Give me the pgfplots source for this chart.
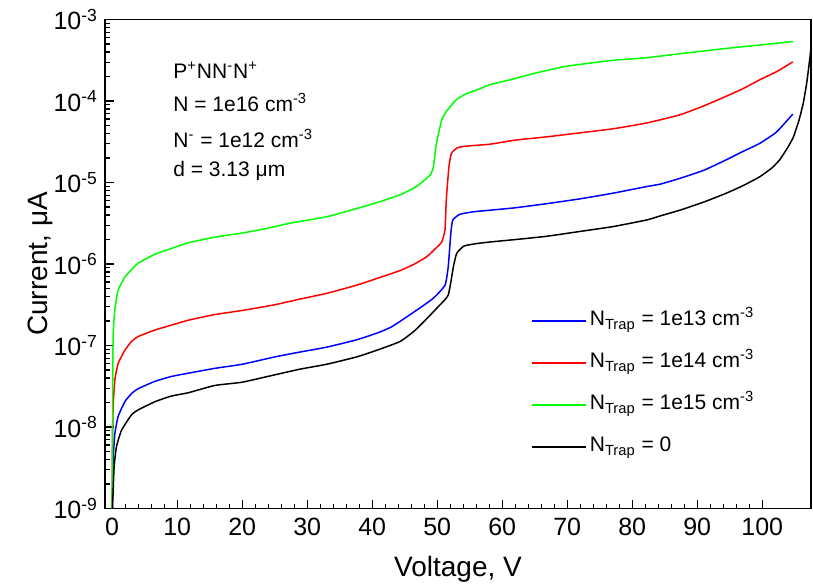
\documentclass[border=0pt]{standalone}
\usepackage{fontspec}
\setmainfont{Liberation Sans}
\usepackage{pgfplots}
\usepackage{pgfplotstable}
\pgfplotsset{compat=1.18}

\pgfplotstableread{
V ly
0.0 -9.1
0.05 -8.0
0.15 -6.89
0.42 -6.56
0.92 -6.32
1.95 -6.16
2.98 -6.07
4.0 -5.99
6.57 -5.88
9.1 -5.81
11.7 -5.74
15.8 -5.67
20 -5.62
24 -5.56
27.3 -5.50
33 -5.42
37.6 -5.32
41 -5.24
44.3 -5.15
46.8 -5.05
48.9 -4.91
49.4 -4.81
49.8 -4.56
50.2 -4.40
50.7 -4.23
51.3 -4.14
52 -4.07
53 -3.98
54.5 -3.91
56.6 -3.85
58.1 -3.80
61.7 -3.73
65 -3.66
69.4 -3.58
73 -3.54
77.1 -3.50
82 -3.47
87.3 -3.42
95 -3.35
100 -3.31
104.7 -3.27
}\datagreen

\pgfplotstableread{
V ly
0.0 -9.1
0.05 -8.3
0.15 -7.75
0.42 -7.42
0.92 -7.22
1.95 -7.06
2.98 -6.95
4.0 -6.89
6.57 -6.81
9.1 -6.75
11.7 -6.69
15.8 -6.62
20 -6.57
25 -6.50
28.9 -6.43
33 -6.36
37.6 -6.26
41 -6.17
44.3 -6.08
46.5 -6.00
48.4 -5.91
50 -5.79
50.7 -5.73
51.2 -5.58
51.4 -5.21
51.8 -4.81
52.2 -4.64
53.2 -4.57
55 -4.55
58.1 -4.53
62 -4.48
66.8 -4.44
72 -4.39
77.1 -4.34
82.2 -4.27
87.3 -4.17
91 -4.06
94.5 -3.94
97 -3.85
99.6 -3.74
102.2 -3.64
104.7 -3.52
}\datared

\pgfplotstableread{
V ly
0.0 -9.1
0.05 -8.8
0.15 -8.40
0.42 -8.08
0.92 -7.87
1.95 -7.69
2.98 -7.59
4.0 -7.53
6.57 -7.44
9.1 -7.38
11.7 -7.34
15.8 -7.28
20 -7.23
25 -7.14
28.9 -7.08
33 -7.02
37.6 -6.93
41 -6.84
43 -6.77
45.3 -6.65
47.5 -6.53
49.4 -6.42
51.2 -6.26
51.7 -6.03
52.1 -5.62
52.4 -5.46
53.5 -5.39
55.5 -5.36
58.1 -5.34
62 -5.31
66.8 -5.26
72 -5.20
77.1 -5.13
82.2 -5.05
84.3 -5.02
87.3 -4.95
91 -4.85
94.5 -4.72
97 -4.62
99.6 -4.52
102.2 -4.38
104.7 -4.16
}\datablue

\pgfplotstableread{
V ly
0.0 -9.1
0.1 -8.9
0.3 -8.49
0.67 -8.24
1.44 -8.04
2.98 -7.85
4.0 -7.79
6.57 -7.69
9.1 -7.62
11.7 -7.58
15.8 -7.49
20 -7.45
25 -7.36
28.9 -7.29
33 -7.23
37.6 -7.14
41 -7.05
44.3 -6.95
46.5 -6.82
48.4 -6.67
50.2 -6.52
51.7 -6.38
52.5 -6.03
53.0 -5.87
54.1 -5.78
56 -5.75
58.1 -5.73
62 -5.70
66.8 -5.66
72 -5.60
77.1 -5.54
82.2 -5.46
84.3 -5.41
87.3 -5.34
91 -5.24
94.5 -5.13
97 -5.04
99.6 -4.93
101.5 -4.82
102.7 -4.72
104 -4.56
104.8 -4.44
105.6 -4.25
106.3 -4.03
106.8 -3.8
107.1 -3.62
107.4 -3.42
107.6 -3.25
}\datablack

\begin{document}
\begin{tikzpicture}
\begin{axis}[
  scale only axis,
  width=353pt, height=244.5pt,
  xmin=-1.1, xmax=107.5,
  ymode=log, ymin=1e-9, ymax=1e-3,
  axis line style={line width=0.8pt},
  tick align=inside,
  xtick pos=left, ytick pos=left,
  xtick={0,10,...,100},
  minor x tick num=4,
  ytick={1e-9,1e-8,1e-7,1e-6,1e-5,1e-4,1e-3},
  yticklabels={10\textsuperscript{-9},10\textsuperscript{-8},10\textsuperscript{-7},10\textsuperscript{-6},10\textsuperscript{-5},10\textsuperscript{-4},10\textsuperscript{-3}},
  major tick length=4.5pt, minor tick length=2.5pt,
  every tick/.style={black, line width=0.6pt},
  /pgf/number format/assume math mode=true,
  ticklabel style={font=\fontsize{12.5}{14}\selectfont},
  xticklabel style={yshift=-1pt},
  xlabel={Voltage, V},
  ylabel={Current, μA},
  label style={font=\fontsize{14}{16}\selectfont},
  xlabel style={at={(axis description cs:0.5,-0.124)}, anchor=center},
  ylabel style={at={(axis description cs:-0.092,0.5)}, anchor=center, rotate=0},
  legend style={draw=none, fill=none, at={(rel axis cs:0.595,0.42)}, anchor=north west,
    font=\fontsize{10.5}{12}\selectfont, row sep=7.6pt,
    nodes={inner sep=1.2pt, text height=8pt, text depth=3pt}},
  legend cell align=left,
  legend image code/.code={\draw[#1, line width=1pt] (0pt,0pt) -- (27pt,0pt);},
  every axis plot/.append style={line width=0.75pt, line join=round, smooth, tension=0.3},
]
\addplot[color=blue] table[x=V, y expr=10^(\thisrow{ly})] {\datablue};
\addlegendentry{N\textsubscript{Trap} = 1e13 cm\textsuperscript{-3}}
\addplot[color=red] table[x=V, y expr=10^(\thisrow{ly})] {\datared};
\addlegendentry{N\textsubscript{Trap} = 1e14 cm\textsuperscript{-3}}
\addplot[color=green] table[x=V, y expr=10^(\thisrow{ly})] {\datagreen};
\addlegendentry{N\textsubscript{Trap} = 1e15 cm\textsuperscript{-3}}
\addplot[color=black] table[x=V, y expr=10^(\thisrow{ly})] {\datablack};
\addlegendentry{N\textsubscript{Trap} = 0}

\node[anchor=base west, font=\fontsize{10.5}{12}\selectfont, inner sep=0pt] at (rel axis cs:0.0963,0.880) {P\textsuperscript{+}NN\textsuperscript{-}N\textsuperscript{+}};
\node[anchor=base west, font=\fontsize{10.5}{12}\selectfont, inner sep=0pt] at (rel axis cs:0.0963,0.811) {N = 1e16 cm\textsuperscript{-3}};
\node[anchor=base west, font=\fontsize{10.5}{12}\selectfont, inner sep=0pt] at (rel axis cs:0.0963,0.739) {N\textsuperscript{-} = 1e12 cm\textsuperscript{-3}};
\node[anchor=base west, font=\fontsize{10.5}{12}\selectfont, inner sep=0pt] at (rel axis cs:0.0963,0.678) {d = 3.13 μm};
\end{axis}
\pgfresetboundingbox
\path[use as bounding box] (-52.5pt,-37.75pt) rectangle (354pt,254.25pt);
\end{tikzpicture}
\end{document}
